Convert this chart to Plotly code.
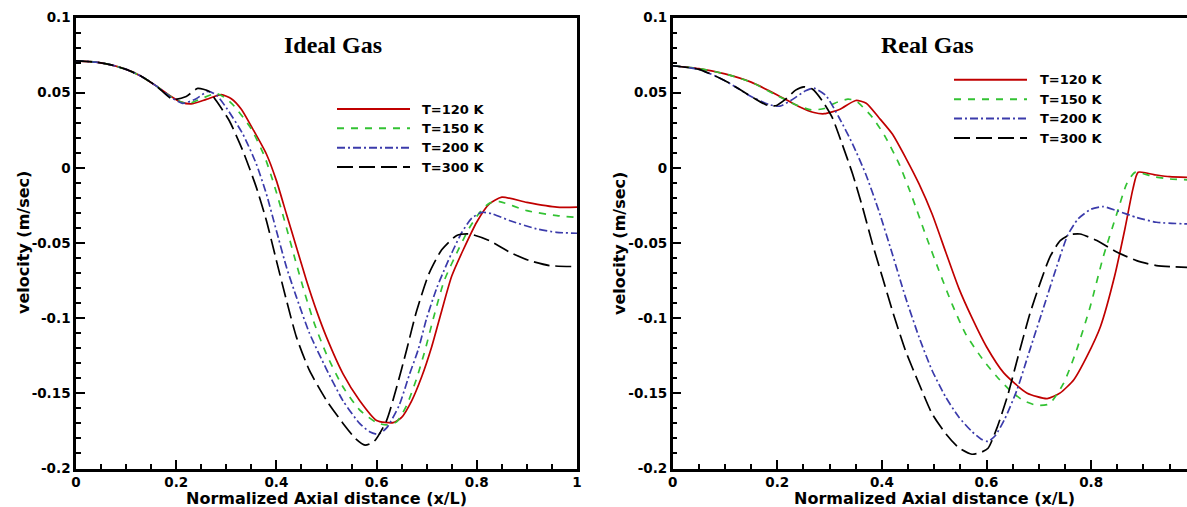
import plotly.graph_objects as go

# ---------------- data ----------------
temps = ["T=120 K", "T=150 K", "T=200 K", "T=300 K"]
colors = ["#c00000", "#33c233", "#3b3bab", "#000000"]
dashes = ["solid", "7px,7px", "8px,3px,2px,3px", "16px,6px"]

# Ideal gas
ideal_x_120 = [0, 0.04, 0.07, 0.10, 0.13, 0.16, 0.19, 0.21, 0.23, 0.26, 0.29, 0.31, 0.33, 0.353, 0.38, 0.40, 0.42, 0.44, 0.46, 0.48, 0.50, 0.533, 0.566, 0.60, 0.633, 0.65, 0.67, 0.69, 0.71, 0.73, 0.75, 0.773, 0.80, 0.825, 0.85, 0.90, 0.96, 1.0]
ideal_v_120 = [0.0712, 0.0703, 0.0685, 0.0655, 0.061, 0.0545, 0.0475, 0.0437, 0.0425, 0.0455, 0.0487, 0.046, 0.039, 0.0258, 0.0092, -0.0085, -0.0307, -0.0528, -0.075, -0.095, -0.1126, -0.137, -0.1547, -0.168, -0.1695, -0.166, -0.155, -0.139, -0.119, -0.095, -0.072, -0.0545, -0.036, -0.024, -0.0195, -0.023, -0.0262, -0.0262]

ideal_x_150 = [0, 0.04, 0.07, 0.10, 0.13, 0.16, 0.19, 0.21, 0.225, 0.25, 0.28, 0.30, 0.316, 0.35, 0.377, 0.397, 0.418, 0.438, 0.457, 0.476, 0.50, 0.533, 0.566, 0.60, 0.62, 0.64, 0.66, 0.68, 0.697, 0.715, 0.735, 0.763, 0.785, 0.805, 0.825, 0.845, 0.90, 0.96, 1.0]
ideal_v_150 = [0.0712, 0.0703, 0.0685, 0.0655, 0.061, 0.0545, 0.0472, 0.0437, 0.0428, 0.046, 0.0495, 0.046, 0.041, 0.0258, 0.007, -0.013, -0.0373, -0.0617, -0.0838, -0.1038, -0.124, -0.1458, -0.161, -0.1695, -0.171, -0.169, -0.158, -0.14, -0.121, -0.098, -0.075, -0.0545, -0.04, -0.03, -0.0235, -0.0225, -0.0285, -0.0318, -0.033]

ideal_x_200 = [0, 0.04, 0.07, 0.10, 0.13, 0.16, 0.19, 0.213, 0.24, 0.263, 0.28, 0.30, 0.333, 0.36, 0.38, 0.40, 0.42, 0.44, 0.466, 0.50, 0.533, 0.566, 0.586, 0.603, 0.62, 0.645, 0.665, 0.683, 0.70, 0.72, 0.74, 0.753, 0.77, 0.79, 0.81, 0.83, 0.865, 0.919, 0.959, 1.0]
ideal_v_200 = [0.0712, 0.0703, 0.0685, 0.0655, 0.061, 0.0545, 0.0468, 0.0429, 0.046, 0.0508, 0.0485, 0.040, 0.0225, 0.0025, -0.0174, -0.0418, -0.066, -0.086, -0.11, -0.134, -0.155, -0.17, -0.1755, -0.1772, -0.173, -0.158, -0.138, -0.121, -0.1, -0.08, -0.064, -0.0545, -0.043, -0.0335, -0.0296, -0.0305, -0.035, -0.0406, -0.0429, -0.0435]

ideal_x_300 = [0, 0.04, 0.07, 0.10, 0.13, 0.16, 0.193, 0.22, 0.243, 0.265, 0.28, 0.306, 0.333, 0.36, 0.38, 0.40, 0.42, 0.44, 0.466, 0.50, 0.533, 0.559, 0.577, 0.595, 0.62, 0.64, 0.66, 0.68, 0.705, 0.73, 0.76, 0.785, 0.825, 0.865, 0.905, 0.945, 1.0]
ideal_v_300 = [0.0712, 0.0703, 0.0685, 0.0655, 0.061, 0.0545, 0.0455, 0.0475, 0.0528, 0.051, 0.0446, 0.0313, 0.0114, -0.013, -0.035, -0.0617, -0.088, -0.1126, -0.1348, -0.1547, -0.170, -0.1805, -0.1845, -0.182, -0.168, -0.146, -0.121, -0.095, -0.07, -0.0545, -0.045, -0.044, -0.0484, -0.056, -0.0617, -0.065, -0.0657]

# Real gas
real_x_120 = [0, 0.05, 0.10, 0.15, 0.20, 0.24, 0.27, 0.29, 0.32, 0.35, 0.37, 0.394, 0.42, 0.445, 0.471, 0.496, 0.522, 0.547, 0.573, 0.60, 0.633, 0.677, 0.716, 0.741, 0.767, 0.792, 0.818, 0.845, 0.865, 0.88, 0.89, 0.92, 0.95, 1.0]
real_v_120 = [0.0679, 0.066, 0.0625, 0.057, 0.0485, 0.041, 0.0368, 0.036, 0.039, 0.0448, 0.043, 0.0335, 0.0225, 0.007, -0.0107, -0.0307, -0.056, -0.080, -0.1003, -0.119, -0.1364, -0.1497, -0.1535, -0.1497, -0.1409, -0.1254, -0.1055, -0.072, -0.040, -0.014, -0.003, -0.0045, -0.0059, -0.0065]

real_x_150 = [0, 0.05, 0.10, 0.15, 0.20, 0.235, 0.265, 0.29, 0.31, 0.335, 0.35, 0.382, 0.407, 0.433, 0.458, 0.483, 0.509, 0.534, 0.56, 0.594, 0.62, 0.645, 0.67, 0.696, 0.72, 0.747, 0.772, 0.798, 0.823, 0.849, 0.868, 0.884, 0.92, 0.95, 1.0]
real_v_150 = [0.0679, 0.066, 0.0625, 0.057, 0.048, 0.042, 0.0385, 0.0395, 0.043, 0.0457, 0.0446, 0.0335, 0.0203, 0.0025, -0.0196, -0.044, -0.0683, -0.0905, -0.1104, -0.128, -0.139, -0.148, -0.1547, -0.158, -0.157, -0.1436, -0.1215, -0.0927, -0.0595, -0.0307, -0.0107, -0.003, -0.0059, -0.0074, -0.0082]

real_x_200 = [0, 0.05, 0.10, 0.15, 0.185, 0.205, 0.23, 0.254, 0.27, 0.293, 0.318, 0.344, 0.369, 0.394, 0.42, 0.445, 0.471, 0.496, 0.522, 0.547, 0.573, 0.59, 0.603, 0.617, 0.635, 0.658, 0.683, 0.709, 0.734, 0.755, 0.775, 0.80, 0.823, 0.849, 0.887, 0.925, 1.0]
real_v_200 = [0.0679, 0.0655, 0.058, 0.0475, 0.042, 0.041, 0.0457, 0.0513, 0.053, 0.048, 0.0335, 0.0158, -0.0041, -0.0285, -0.0573, -0.086, -0.1126, -0.1348, -0.1525, -0.1658, -0.1757, -0.1805, -0.182, -0.178, -0.167, -0.148, -0.121, -0.093, -0.066, -0.045, -0.034, -0.0275, -0.0258, -0.0285, -0.033, -0.0362, -0.0375]

real_x_300 = [0, 0.05, 0.10, 0.15, 0.178, 0.197, 0.216, 0.235, 0.251, 0.267, 0.286, 0.305, 0.324, 0.344, 0.363, 0.382, 0.401, 0.42, 0.445, 0.471, 0.496, 0.522, 0.547, 0.572, 0.588, 0.603, 0.62, 0.64, 0.66, 0.683, 0.702, 0.721, 0.741, 0.76, 0.779, 0.811, 0.849, 0.887, 0.925, 1.0]
real_v_300 = [0.0679, 0.0655, 0.058, 0.0475, 0.042, 0.0413, 0.0457, 0.0517, 0.0539, 0.0524, 0.0446, 0.0335, 0.0158, -0.0041, -0.0262, -0.0506, -0.0728, -0.095, -0.1215, -0.1436, -0.1636, -0.1768, -0.1862, -0.1905, -0.1895, -0.1865, -0.173, -0.152, -0.126, -0.097, -0.0772, -0.0595, -0.0484, -0.0444, -0.044, -0.0484, -0.056, -0.0617, -0.065, -0.0665]

ideal_series = [(ideal_x_120, ideal_v_120), (ideal_x_150, ideal_v_150), (ideal_x_200, ideal_v_200), (ideal_x_300, ideal_v_300)]
real_series = [(real_x_120, real_v_120), (real_x_150, real_v_150), (real_x_200, real_v_200), (real_x_300, real_v_300)]

y_tickvals = [0.1, 0.05, 0, -0.05, -0.1, -0.15, -0.2]
y_ticktext = ["0.1", "0.05", "0", "-0.05", "-0.1", "-0.15", "-0.2"]
x_tickvals = [0, 0.2, 0.4, 0.6, 0.8, 1]
x_ticktext = ["0", "0.2", "0.4", "0.6", "0.8", "1"]

panel_titles = ["Ideal Gas", "Real Gas"]
x_title = "Normalized Axial distance (x/L)"
y_title = "velocity (m/sec)"

# ---------------- figure ----------------
W, H = 1187, 507
fig = go.Figure()

for (xs, ys), name, c, d in zip(ideal_series, temps, colors, dashes):
    fig.add_trace(go.Scatter(x=xs, y=ys, mode="lines", name=name, showlegend=False,
                             line=dict(color=c, width=1.7, dash=d, shape="spline", smoothing=0.6),
                             xaxis="x", yaxis="y"))
for (xs, ys), name, c, d in zip(real_series, temps, colors, dashes):
    fig.add_trace(go.Scatter(x=xs, y=ys, mode="lines", name=name, showlegend=False,
                             line=dict(color=c, width=1.7, dash=d, shape="spline", smoothing=0.6),
                             xaxis="x2", yaxis="y2"))

tickfont = dict(family="DejaVu Sans", size=13.5, color="black", weight="bold")

def xaxis(domain, rng):
    return dict(domain=domain, range=rng, showgrid=False, zeroline=False,
                showline=True, linewidth=2.5, linecolor="black", mirror=True,
                ticks="inside", ticklen=9, tickwidth=2, tickcolor="black",
                tickvals=x_tickvals, ticktext=x_ticktext, tickfont=tickfont,
                minor=dict(ticks="inside", dtick=0.05, tick0=0, ticklen=5, tickwidth=1.5,
                           tickcolor="black", showgrid=False),
                automargin=False, fixedrange=True)

def yaxis(domain, anchor, mirror):
    return dict(domain=domain, range=[-0.2, 0.1], anchor=anchor, showgrid=False, zeroline=False,
                showline=True, linewidth=2.5, linecolor="black", mirror=mirror,
                ticks="inside", ticklen=9, tickwidth=2, tickcolor="black",
                tickvals=y_tickvals, ticktext=y_ticktext, tickfont=tickfont,
                minor=dict(ticks="inside", dtick=0.01, tick0=0, ticklen=5, tickwidth=1.5,
                           tickcolor="black", showgrid=False),
                automargin=False, fixedrange=True)

ydom = [1 - 468.5 / H, 1 - 17.5 / H]
left_x0, left_x1 = 76, 577
right_x0 = 672.7
right_span = 523.0
right_max = (W - right_x0) / right_span

fig.update_layout(
    width=W, height=H,
    margin=dict(l=0, r=0, t=0, b=0),
    paper_bgcolor="white", plot_bgcolor="white",
    xaxis=xaxis([left_x0 / W, left_x1 / W], [0, 1]) | dict(anchor="y"),
    yaxis=yaxis(ydom, "x", True),
    xaxis2=xaxis([right_x0 / W, 1.0], [0, right_max]) | dict(anchor="y2"),
    yaxis2=yaxis(ydom, "x2", False),
    showlegend=False,
)

def px(xp):
    return xp / W

def py(yp):
    return 1 - yp / H

ann = []
# panel titles
for t, cx in zip(panel_titles, [333, 927]):
    ann.append(dict(text=t, x=px(cx), y=py(45), xref="paper", yref="paper",
                    xanchor="center", yanchor="middle", showarrow=False,
                    font=dict(family="Liberation Serif", size=24, color="black", weight="bold")))
# axis titles
for cx in [(left_x0 + left_x1) / 2, right_x0 + right_span / 2]:
    ann.append(dict(text=x_title, x=px(cx), y=py(498), xref="paper", yref="paper",
                    xanchor="center", yanchor="middle", showarrow=False,
                    font=dict(family="DejaVu Sans", size=16, color="black", weight="bold")))
for cx in [23, 619]:
    ann.append(dict(text=y_title, x=px(cx), y=py(243), xref="paper", yref="paper",
                    xanchor="center", yanchor="middle", showarrow=False, textangle=-90,
                    font=dict(family="DejaVu Sans", size=16, color="black", weight="bold")))

# legends (line samples + labels)
shapes = []
legend_specs = [
    (337, 410, 420, [109, 128.3, 147.7, 167]),
    (954, 1027, 1037.5, [79.7, 99.2, 118.5, 138]),
]
for lx0, lx1, tx, rows in legend_specs:
    for name, c, d, ry in zip(temps, colors, dashes, rows):
        shapes.append(dict(type="line", xref="paper", yref="paper",
                           x0=px(lx0), x1=px(lx1), y0=py(ry), y1=py(ry),
                           line=dict(color=c, width=2, dash=d)))
        ann.append(dict(text=name, x=px(tx), y=py(ry), xref="paper", yref="paper",
                        xanchor="left", yanchor="middle", showarrow=False,
                        font=dict(family="DejaVu Sans", size=13, color="black", weight="bold")))

fig.update_layout(annotations=ann, shapes=shapes)

fig.write_html("out.html", config={"displayModeBar": False},
               post_script="document.body.style.margin='0px';document.body.style.overflow='hidden';")
